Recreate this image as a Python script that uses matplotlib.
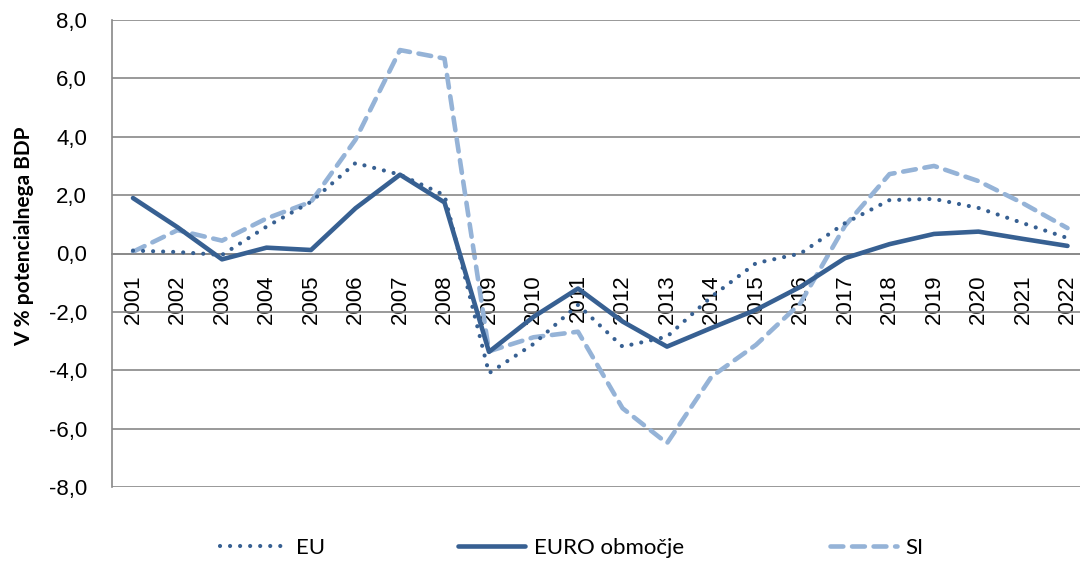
import matplotlib
matplotlib.use('Agg')
import matplotlib.pyplot as plt
from matplotlib.ticker import FuncFormatter

years = [str(y) for y in range(2001, 2023)]
eu = [0.1, 0.05, -0.05, 0.92, 1.77, 3.1, 2.7, 2.0, -4.1, -3.1, -1.76, -3.19,
      -2.85, -1.48, -0.33, 0.0, 1.04, 1.83, 1.87, 1.56, 1.04, 0.53]
euro = [1.9, 0.9, -0.2, 0.2, 0.12, 1.55, 2.7, 1.75, -3.37, -2.17, -1.2, -2.33,
        -3.19, -2.55, -1.93, -1.14, -0.16, 0.32, 0.67, 0.75, 0.5, 0.26]
si = [0.06, 0.8, 0.44, 1.2, 1.77, 3.9, 6.97, 6.68, -3.35, -2.87, -2.68, -5.3,
      -6.5, -4.22, -3.13, -1.7, 0.95, 2.72, 3.0, 2.48, 1.72, 0.87]

dark = '#376092'
light = '#95B3D7'
grid_c = '#888888'

fig = plt.figure(figsize=(10.8, 5.61), dpi=100)
ax = fig.add_axes([112/1080, 1 - 487/561, 1 - 112/1080, (487 - 20)/561])

# horizontal axis crosses at zero (set before tick styling, it resets ticks)
for s in ['top', 'right']:
    ax.spines[s].set_visible(False)
ax.spines['bottom'].set_position(('data', 0))
for s in ['left', 'bottom']:
    ax.spines[s].set_color(grid_c)
    ax.spines[s].set_linewidth(1.2)

x = list(range(len(years)))
l_eu, = ax.plot(x, eu, color=dark, lw=3.0, linestyle=(0, (0.01, 2.4)),
                dash_capstyle='round', zorder=3)
l_euro, = ax.plot(x, euro, color=dark, lw=3.3, solid_capstyle='round',
                  solid_joinstyle='round', zorder=4)
l_si, = ax.plot(x, si, color=light, lw=3.3, linestyle=(0, (2.8, 1.9)),
                dash_capstyle='round', zorder=2)

ax.set_ylim(-8, 8)
ax.set_yticks(range(-8, 9, 2))
ax.yaxis.set_major_formatter(FuncFormatter(lambda v, p: ('%.1f' % v).replace('.', ',')))
ax.set_xlim(-21/44.5, 21 + 12.5/44.5)
ax.set_xticks(x)
ax.set_xticklabels(years)

ax.grid(axis='y', color=grid_c, lw=1.2, zorder=0)

ax.tick_params(axis='both', length=0, labelsize=16)
ax.tick_params(axis='y', pad=18)
ax.tick_params(axis='x', pad=15, labelrotation=90)
for lab in ax.get_xticklabels() + ax.get_yticklabels():
    lab.set_fontfamily('Liberation Sans')

ax.set_ylabel('V % potencialnega BDP', fontsize=15, fontweight='bold',
              fontfamily='Lato')
ax.yaxis.set_label_coords(-78/968, 0.536)

entries = [(l_eu, 'EU', 220), (l_euro, 'EURO območje', 458), (l_si, 'SI', 830)]
for h, name, px in entries:
    fig.legend([h], [name], loc='center left', bbox_to_anchor=(px/1080, 1 - 548/561),
               frameon=False, handlelength=3.0, handletextpad=0.4,
               borderaxespad=0, borderpad=0,
               prop={'family': 'Lato', 'size': 16})

fig.savefig('out.png', dpi=100)
